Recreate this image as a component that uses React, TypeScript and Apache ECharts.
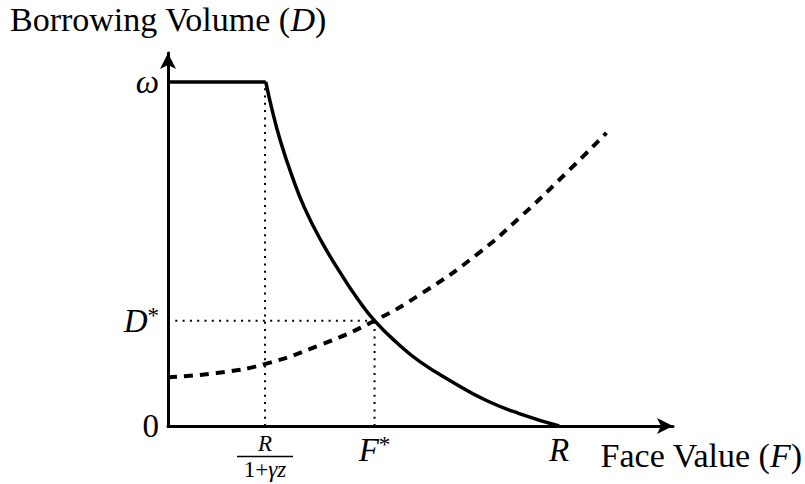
import React, { useEffect, useRef } from "react";
import * as echarts from "echarts";

// Tick positions (data units: R = 10, omega = 10)
const omega = 10;
const xKink = 2.48;
const fStar = 5.28;
const dStar = 3.06;
const rValue = 10;

const xTickValues = [xKink, fStar, rValue];
const yTickValues = [0, dStar, omega];

// Solid curve (supply of credit): flat ceiling then decreasing
const ceilingX = [0, 2.5];
const ceilingY = [10, 10];
const solidX = [2.5, 2.65, 2.88, 3.16, 3.49, 3.93, 4.44, 4.85, 5.28, 5.85, 6.43, 7.27, 8.14, 8.98, 10];
const solidY = [10, 9.24, 8.26, 7.3, 6.34, 5.35, 4.39, 3.69, 3.06, 2.42, 1.88, 1.28, 0.74, 0.36, 0];

// Dashed curve (demand), increasing
const dashedX = [0, 1.25, 2.47, 3.88, 5.28, 6.51, 7.88, 9.06, 10.26, 11.21];
const dashedY = [1.42, 1.54, 1.8, 2.35, 3.06, 3.87, 4.97, 6.13, 7.44, 8.52];

const FONT = "'Liberation Serif', 'DejaVu Serif', serif";

const zip = (xs: number[], ys: number[]) => xs.map((x, i) => [x, ys[i]]);

const richStyles = {
  r: { fontFamily: FONT, fontSize: 33, color: "#000" },
  i: { fontFamily: FONT, fontSize: 33, fontStyle: "italic", color: "#000" },
  sup: { fontFamily: FONT, fontSize: 23, color: "#000", verticalAlign: "top" },
  fi: { fontFamily: FONT, fontSize: 23, fontStyle: "italic", color: "#000", lineHeight: 21 },
  fr: { fontFamily: FONT, fontSize: 23, color: "#000", lineHeight: 21 },
  bar: { width: 56, height: 1.3, lineHeight: 5, fontSize: 2, backgroundColor: "#000" },
};

const nameRich = {
  r: { fontFamily: FONT, fontSize: 34, color: "#000" },
  i: { fontFamily: FONT, fontSize: 34, fontStyle: "italic", color: "#000" },
};

export default function App() {
  const ref = useRef<HTMLDivElement>(null);
  useEffect(() => {
    if (!ref.current) return;
    const chart = echarts.init(ref.current, undefined, { renderer: "svg" });
    const dotted = {
      color: "#000",
      width: 2,
      type: [2, 5.3] as any,
    };
    chart.setOption({
      animation: false,
      backgroundColor: "#fff",
      grid: { left: 168, top: 53, width: 506, height: 373 },
      xAxis: {
        type: "value",
        min: 0,
        max: 12.91,
        splitLine: { show: false },
        axisTick: { show: false },
        axisLine: {
          show: true,
          symbol: ["none", "arrow"],
          symbolSize: [12, 16],
          lineStyle: { color: "#000", width: 3 },
        },
        axisLabel: {
          customValues: xTickValues,
          margin: 7,
          verticalAlign: "top",
          formatter: (v: number) =>
            v === xKink
              ? "{fi|R}\n{bar| }\n{fr|1+}{fi|γz}"
              : v === fStar
              ? "{i|F}{sup|*}"
              : "{i|R}",
          rich: richStyles,
        },
        name: "{r|Face Value (}{i|F}{r|)}",
        nameLocation: "end",
        nameGap: 129,
        nameTextStyle: {
          align: "right",
          verticalAlign: "top",
          padding: [12, 0, 0, 0],
          rich: nameRich,
        },
      },
      yAxis: {
        type: "value",
        min: 0,
        max: 10.84,
        splitLine: { show: false },
        axisTick: { show: false },
        axisLine: {
          show: true,
          symbol: ["none", "arrow"],
          symbolSize: [12, 16],
          lineStyle: { color: "#000", width: 3 },
        },
        axisLabel: {
          customValues: yTickValues,
          margin: 9,
          formatter: (v: number) =>
            v === omega ? "{i|ω}" : v === dStar ? "{i|D}{sup|*}" : "{r|0}",
          rich: richStyles,
        },
        name: "{r|Borrowing Volume (}{i|D}{r|)}",
        nameLocation: "end",
        nameGap: 17,
        nameTextStyle: { rich: nameRich },
      },
      series: [
        {
          type: "line",
          data: [[xKink, 0], [xKink, omega]],
          symbol: "none",
          lineStyle: dotted,
          z: 1,
        },
        {
          type: "line",
          data: [[fStar, 0], [fStar, dStar]],
          symbol: "none",
          lineStyle: dotted,
          z: 1,
        },
        {
          type: "line",
          data: [[0, dStar], [fStar, dStar]],
          symbol: "none",
          lineStyle: dotted,
          z: 1,
        },
        {
          type: "line",
          data: zip(dashedX, dashedY),
          symbol: "none",
          smooth: 0.5,
          lineStyle: { color: "#000", width: 4, type: [9, 7] as any },
          z: 2,
        },
        {
          type: "line",
          data: zip(ceilingX, ceilingY),
          symbol: "none",
          lineStyle: { color: "#000", width: 3.5 },
          z: 3,
        },
        {
          type: "line",
          data: zip(solidX, solidY),
          symbol: "none",
          smooth: 0.5,
          lineStyle: { color: "#000", width: 3.5 },
          z: 3,
        },
      ],
    });
    return () => chart.dispose();
  }, []);
  return (
    <div
      ref={ref}
      style={{ position: "fixed", left: 0, top: 0, width: 805, height: 484 }}
    />
  );
}
